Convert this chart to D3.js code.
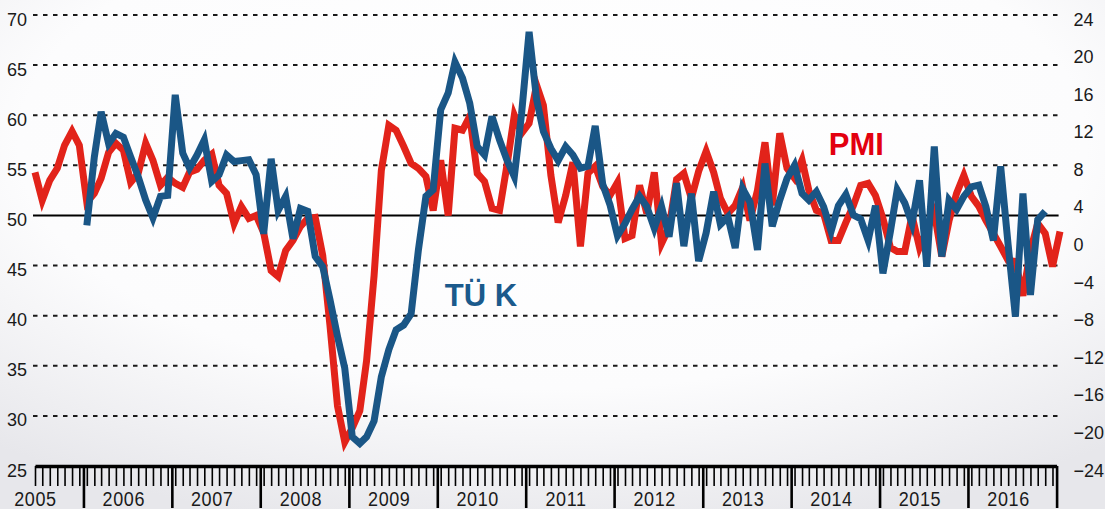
<!DOCTYPE html>
<html>
<head>
<meta charset="utf-8">
<script src="https://cdn.jsdelivr.net/npm/d3@7"></script>
<style>
  html, body { margin: 0; padding: 0; background: #fff; }
  svg { display: block; font-family: "Liberation Sans", Arial, Helvetica, sans-serif; }
</style>
</head>
<body>
<svg id="chart" width="1105" height="509"></svg>
<script>
// Monthly readings: PMI (left axis) and TÜİK industrial production, % y/y (right axis)
const pmiStart = "2005-06";
const pmiValues = [
  54.3, 51.5, 53.5, 54.7, 57.0, 58.4, 57.0,
  51.3, 52.2, 53.7, 56.3, 57.2, 56.5, 53.3, 54.2, 57.2, 55.5, 53.0, 53.8,
  53.2, 52.8, 54.3, 54.6, 55.5, 56.1, 53.0, 52.2, 49.2, 50.9, 49.7, 50.0,
  48.3, 44.5, 43.9, 46.5, 47.5, 48.9, 49.7, 49.8, 46.0, 39.0, 31.0, 27.4,
  28.8, 30.5, 35.5, 44.0, 54.5, 59.0, 58.5, 56.9, 55.2, 54.7, 53.9, 50.5,
  55.5, 50.0, 58.7, 58.5, 59.9, 54.2, 53.4, 50.7, 50.5, 54.9, 60.0, 58.2,
  59.2, 63.0, 61.0, 54.0, 49.3, 52.0, 55.3, 46.9, 54.2, 54.9, 52.9, 52.0,
  53.3, 47.7, 48.0, 53.0, 50.2, 54.3, 47.2, 48.8, 53.6, 54.2, 51.7, 54.4,
  56.4, 54.3, 51.7, 50.2, 51.0, 52.8, 49.5, 52.5, 57.3, 51.0, 58.2, 54.7,
  53.7, 55.5, 52.5, 50.5, 50.2, 47.5, 47.5, 49.3, 51.0, 53.0, 53.2, 52.0,
  49.7, 46.8, 46.4, 46.4, 50.0, 46.8, 48.5, 50.3, 45.9, 49.5, 52.2, 54.0,
  51.9, 50.9, 49.5, 48.2, 46.9, 45.5, 45.4, 42.0, 46.5, 49.2, 48.2, 44.9,
  48.4
];
const tukStart = "2006-01";
const tukValues = [
  1.6, 8.9, 13.7, 10.3, 11.4, 11.0, 8.9, 6.8, 4.3, 2.4, 4.7, 4.8,
  15.5, 9.3, 7.7, 9.1, 10.7, 6.3, 7.0, 9.1, 8.4, 8.5, 8.6, 7.0,
  0.7, 8.7, 3.2, 4.7, 0.2, 3.4, 3.1, -1.7, -2.8, -6.3, -10.2, -13.6,
  -20.9, -21.6, -20.9, -19.2, -14.5, -11.6, -9.5, -9.0, -7.8, -1.0, 4.7, 5.4,
  13.9, 15.7, 19.0, 17.3, 14.6, 10.0, 9.1, 13.2, 10.7, 8.6, 6.8, 13.5,
  22.2, 15.0, 11.6, 9.8, 8.5, 10.0, 9.1, 7.7, 7.9, 12.2, 6.0, 3.8,
  0.5, 1.8, 3.3, 4.7, 3.6, 1.3, 3.6, 0.4, 6.1, -0.6, 5.0, -2.2,
  0.8, 5.2, 1.7, 2.5, -0.8, 5.5, 4.1, -1.0, 8.2, 1.5, 4.3, 6.6,
  8.0, 5.0, 4.3, 5.2, 3.6, 1.0, 3.7, 4.9, 2.7, 2.3, 0.0, 3.7,
  -3.5, 1.0, 5.4, 4.0, 1.8, 6.4, -2.8, 10.0, -1.7, 4.3, 3.3, 4.7,
  5.7, 5.9, 3.6, 0.0, 7.9, -0.5, -8.1, 5.0, -5.8, 2.2, 3.1
];
const leftTicks = [25, 30, 35, 40, 45, 50, 55, 60, 65, 70];
const rightTicks = [-24, -20, -16, -12, -8, -4, 0, 4, 8, 12, 16, 20, 24];
const yearLabels = ["2005", "2006", "2007", "2008", "2009", "2010",
                    "2011", "2012", "2013", "2014", "2015", "2016"];
const pmiLabel = "PMI";
const tukLabel = "TÜ K";

const W = 1105, H = 509;
const svg = d3.select("#chart");

// soft grey vignette behind the plot
const defs = svg.append("defs");
const grad = defs.append("radialGradient")
  .attr("id", "bg").attr("cx", "50%").attr("cy", "28%").attr("r", "78%");
grad.append("stop").attr("offset", "0%").attr("stop-color", "#ffffff");
grad.append("stop").attr("offset", "62%").attr("stop-color", "#fcfcfd");
grad.append("stop").attr("offset", "100%").attr("stop-color", "#e7e7eb");
svg.append("rect").attr("width", W).attr("height", H).attr("fill", "url(#bg)");

const parseMonth = d3.timeParse("%Y-%m");
// each monthly value sits at the middle of its month
const midMonth = (start, i) => d3.timeDay.offset(d3.timeMonth.offset(parseMonth(start), i), 14);
const pmi = pmiValues.map((v, i) => ({ date: midMonth(pmiStart, i), value: v }));
const tuk = tukValues.map((v, i) => ({ date: midMonth(tukStart, i), value: v }));

const x = d3.scaleTime()
  .domain([new Date(2005, 5, 15), new Date(2017, 0, 1)])
  .range([35, 1056.6]);
const yL = d3.scaleLinear().domain([25, 70]).range([466, 15]);
const yR = d3.scaleLinear().domain([-24, 24]).range([466, 15]);

const [x0, x1] = x.range();

// horizontal grid: dashed, with a solid line at 50
const grid = svg.append("g");
grid.selectAll("line")
  .data(leftTicks.filter(t => t !== 25))
  .join("line")
  .attr("x1", x0 - 2).attr("x2", x1 + 2)
  .attr("y1", d => yL(d)).attr("y2", d => yL(d))
  .attr("stroke", d => d === 50 ? "#000" : "#1a1a1a")
  .attr("stroke-width", 2)
  .attr("stroke-dasharray", d => d === 50 ? null : "4.5,5.5");

// series
const lineL = d3.line().x(d => x(d.date)).y(d => yL(d.value));
const lineR = d3.line().x(d => x(d.date)).y(d => yR(d.value));

svg.append("path").datum(pmi)
  .attr("d", lineL)
  .attr("fill", "none")
  .attr("stroke", "#e2231a")
  .attr("stroke-width", 7)
  .attr("stroke-linejoin", "miter")
  .attr("stroke-miterlimit", 4);

svg.append("path").datum(tuk)
  .attr("d", lineR)
  .attr("fill", "none")
  .attr("stroke", "#1a5686")
  .attr("stroke-width", 7)
  .attr("stroke-linejoin", "miter")
  .attr("stroke-miterlimit", 4);

// bottom axis: month ticks at mid-month, long ticks at year boundaries
const monthTicks = d3.timeMonth.range(new Date(2005, 5, 1), new Date(2017, 0, 1))
  .map(d => d3.timeDay.offset(d, 14));
const yearTicks = d3.timeYear.range(new Date(2006, 0, 1), new Date(2017, 0, 2));

const axisY = yL(25);
const gMinor = svg.append("g").attr("transform", `translate(0,${axisY})`)
  .call(d3.axisBottom(x).tickValues(monthTicks).tickSize(20).tickSizeOuter(0).tickFormat(""));
gMinor.select(".domain").attr("stroke", "#000").attr("stroke-width", 3.5);
gMinor.selectAll(".tick line").attr("stroke", "#000").attr("stroke-width", 1.6);

const gMajor = svg.append("g").attr("transform", `translate(0,${axisY})`)
  .call(d3.axisBottom(x).tickValues(yearTicks).tickSize(42).tickSizeOuter(0).tickFormat(""));
gMajor.select(".domain").remove();
gMajor.selectAll(".tick line").attr("stroke", "#000").attr("stroke-width", 2.6);

// year labels, centred on each calendar year (slightly tall glyphs)
svg.append("g").selectAll("text")
  .data(yearLabels)
  .join("text")
  .attr("transform", d => `translate(${x(new Date(+d, 6, 1)) - 3.5},506) scale(1,1.15)`)
  .attr("text-anchor", "middle")
  .attr("font-size", 18)
  .attr("letter-spacing", 0.6)
  .attr("fill", "#1a1a1a")
  .text(d => d);

// left axis labels
const gLeft = svg.append("g").attr("transform", `translate(${x0 - 2},0)`)
  .call(d3.axisLeft(yL).tickValues(leftTicks).tickSize(0).tickPadding(6));
gLeft.select(".domain").remove();
gLeft.selectAll("text")
  .attr("font-size", 18).attr("font-family", null)
  .attr("fill", "#1a1a1a").attr("dy", 10);

// right axis labels
const gRight = svg.append("g").attr("transform", `translate(${x1 + 2},0)`)
  .call(d3.axisRight(yR).tickValues(rightTicks).tickSize(0).tickPadding(15));
gRight.select(".domain").remove();
gRight.selectAll("text")
  .attr("font-size", 18).attr("font-family", null)
  .attr("fill", "#1a1a1a").attr("dy", 10);

// series labels
svg.append("text")
  .attr("x", x(new Date(2014, 5, 1)) + 1)
  .attr("y", yL(56))
  .attr("font-size", 31).attr("font-weight", "bold")
  .attr("fill", "#e3000f")
  .text(pmiLabel);

svg.append("text")
  .attr("x", x(new Date(2010, 1, 1)))
  .attr("y", yL(41))
  .attr("font-size", 31).attr("font-weight", "bold")
  .attr("fill", "#1b5a8c")
  .text(tukLabel);
</script>
</body>
</html>
